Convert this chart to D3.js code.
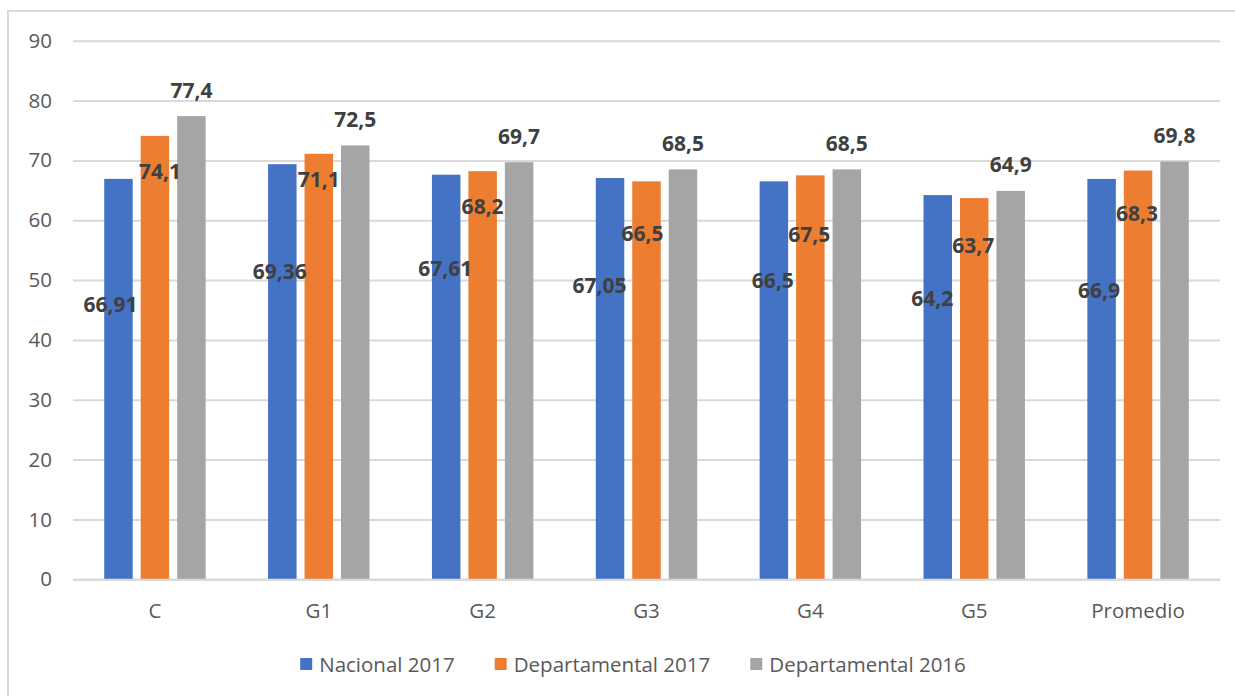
<!DOCTYPE html>
<html>
<head>
<meta charset="utf-8">
<script src="https://cdn.jsdelivr.net/npm/d3@7/dist/d3.min.js"></script>
<style>
  html, body { margin: 0; padding: 0; background: #fff; }
  svg { display: block; }
</style>
</head>
<body>
<svg id="chart" width="1235" height="696"></svg>
<script>
// ---- data ----
const categories = ["C", "G1", "G2", "G3", "G4", "G5", "Promedio"];
const seriesNames = ["Nacional 2017", "Departamental 2017", "Departamental 2016"];
const nacional2017 = [66.91, 69.36, 67.61, 67.05, 66.5, 64.2, 66.9];
const departamental2017 = [74.1, 71.1, 68.2, 66.5, 67.5, 63.7, 68.3];
const departamental2016 = [77.4, 72.5, 69.7, 68.5, 68.5, 64.9, 69.8];
const yTicks = [0, 10, 20, 30, 40, 50, 60, 70, 80, 90];

// ---- layout / style (not data) ----
const colors = ["#4472C4", "#ED7D31", "#A5A5A5"];
// manual label nudges (px) relative to bar top centre, as placed in the original
const labelNudge = [
  [[-8, 126], [-2.5, 107], [-1, 94], [-10.5, 107], [-1, 99], [-5.5, 103], [-2.5, 111]],
  [[5, 36], [0, 26], [0, 35], [-4, 52], [-1, 59], [-1, 47], [-1, 43]],
  [[0, -26], [0, -26], [0, -26], [0, -26], [0, -26], [0, -26], [0, -26]]
];

const seriesValues = [nacional2017, departamental2017, departamental2016];
const svg = d3.select("#chart");
const font = "'Open Sans', 'Noto Sans', sans-serif";

// chart area border
svg.append("rect")
  .attr("x", 8).attr("y", 11)
  .attr("width", 1260).attr("height", 720)
  .attr("fill", "#fff")
  .attr("stroke", "#d9d9d9").attr("stroke-width", 2);

const plot = { left: 73, right: 1220, top: 40.7, bottom: 579.3 };

const x0 = d3.scaleBand().domain(categories).range([plot.left, plot.right]).padding(0);
const x1 = d3.scaleBand().domain(d3.range(seriesNames.length))
  .range([0, x0.bandwidth()]).paddingInner(0.219).paddingOuter(0.856);
const y = d3.scaleLinear().domain([0, 90]).range([plot.bottom, plot.top]);

// gridlines
const yAxis = d3.axisLeft(y).tickValues(yTicks).tickSize(-(plot.right - plot.left)).tickPadding(21)
  .tickFormat(d3.format("d"));
const gy = svg.append("g").attr("transform", `translate(${plot.left},0)`).call(yAxis);
gy.select(".domain").remove();
gy.selectAll(".tick line").attr("stroke", "#d9d9d9").attr("stroke-width", 2);
gy.selectAll(".tick text").attr("fill", "#595959").style("font-family", font).style("font-size", "20.5px");

// bars
const groups = svg.append("g").selectAll("g")
  .data(categories).join("g")
  .attr("transform", d => `translate(${x0(d)},0)`);

groups.selectAll("rect")
  .data((c, i) => seriesValues.map((vals, s) => ({ s, i, v: vals[i] })))
  .join("rect")
  .attr("x", d => x1(d.s))
  .attr("width", x1.bandwidth())
  .attr("y", d => y(d.v))
  .attr("height", d => y(0) - y(d.v))
  .attr("fill", d => colors[d.s]);

// x axis
const xAxis = d3.axisBottom(x0).tickSize(0).tickPadding(24);
const gx = svg.append("g").attr("transform", `translate(0,${plot.bottom})`).call(xAxis);
gx.select(".domain").attr("stroke", "#d9d9d9").attr("stroke-width", 2);
gx.selectAll(".tick text").attr("fill", "#595959").style("font-family", font).style("font-size", "20.5px");

// data labels
const fmt = v => String(v).replace(".", ",");
groups.selectAll("text.lbl")
  .data((c, i) => seriesValues.map((vals, s) => ({ s, i, v: vals[i] })))
  .join("text")
  .attr("class", "lbl")
  .attr("x", d => x1(d.s) + x1.bandwidth() / 2 + labelNudge[d.s][d.i][0])
  .attr("y", d => y(d.v) + labelNudge[d.s][d.i][1])
  .attr("dy", "0.36em")
  .attr("text-anchor", "middle")
  .attr("fill", "#404040")
  .style("font-family", font)
  .style("font-weight", "700")
  .style("font-size", "21px")
  .text(d => fmt(d.v));

// legend
const legend = svg.append("g");
const items = legend.selectAll("g").data(seriesNames).join("g");
items.append("rect").attr("width", 12).attr("height", 12).attr("y", -12).attr("fill", (d, i) => colors[i]);
items.append("text").attr("x", 19).attr("y", 0).attr("dy", "-0.5").attr("fill", "#595959")
  .style("font-family", font).style("font-size", "20.5px").text(d => d);
let widths = [];
items.each(function () { widths.push(this.getBBox().width); });
const gap = 40;
const total = d3.sum(widths) + gap * (widths.length - 1);
let cx = 633 - total / 2;
items.attr("transform", (d, i) => {
  const t = `translate(${cx},670)`;
  cx += widths[i] + gap;
  return t;
});
items.select("text").attr("y", 2.5);
</script>
</body>
</html>
